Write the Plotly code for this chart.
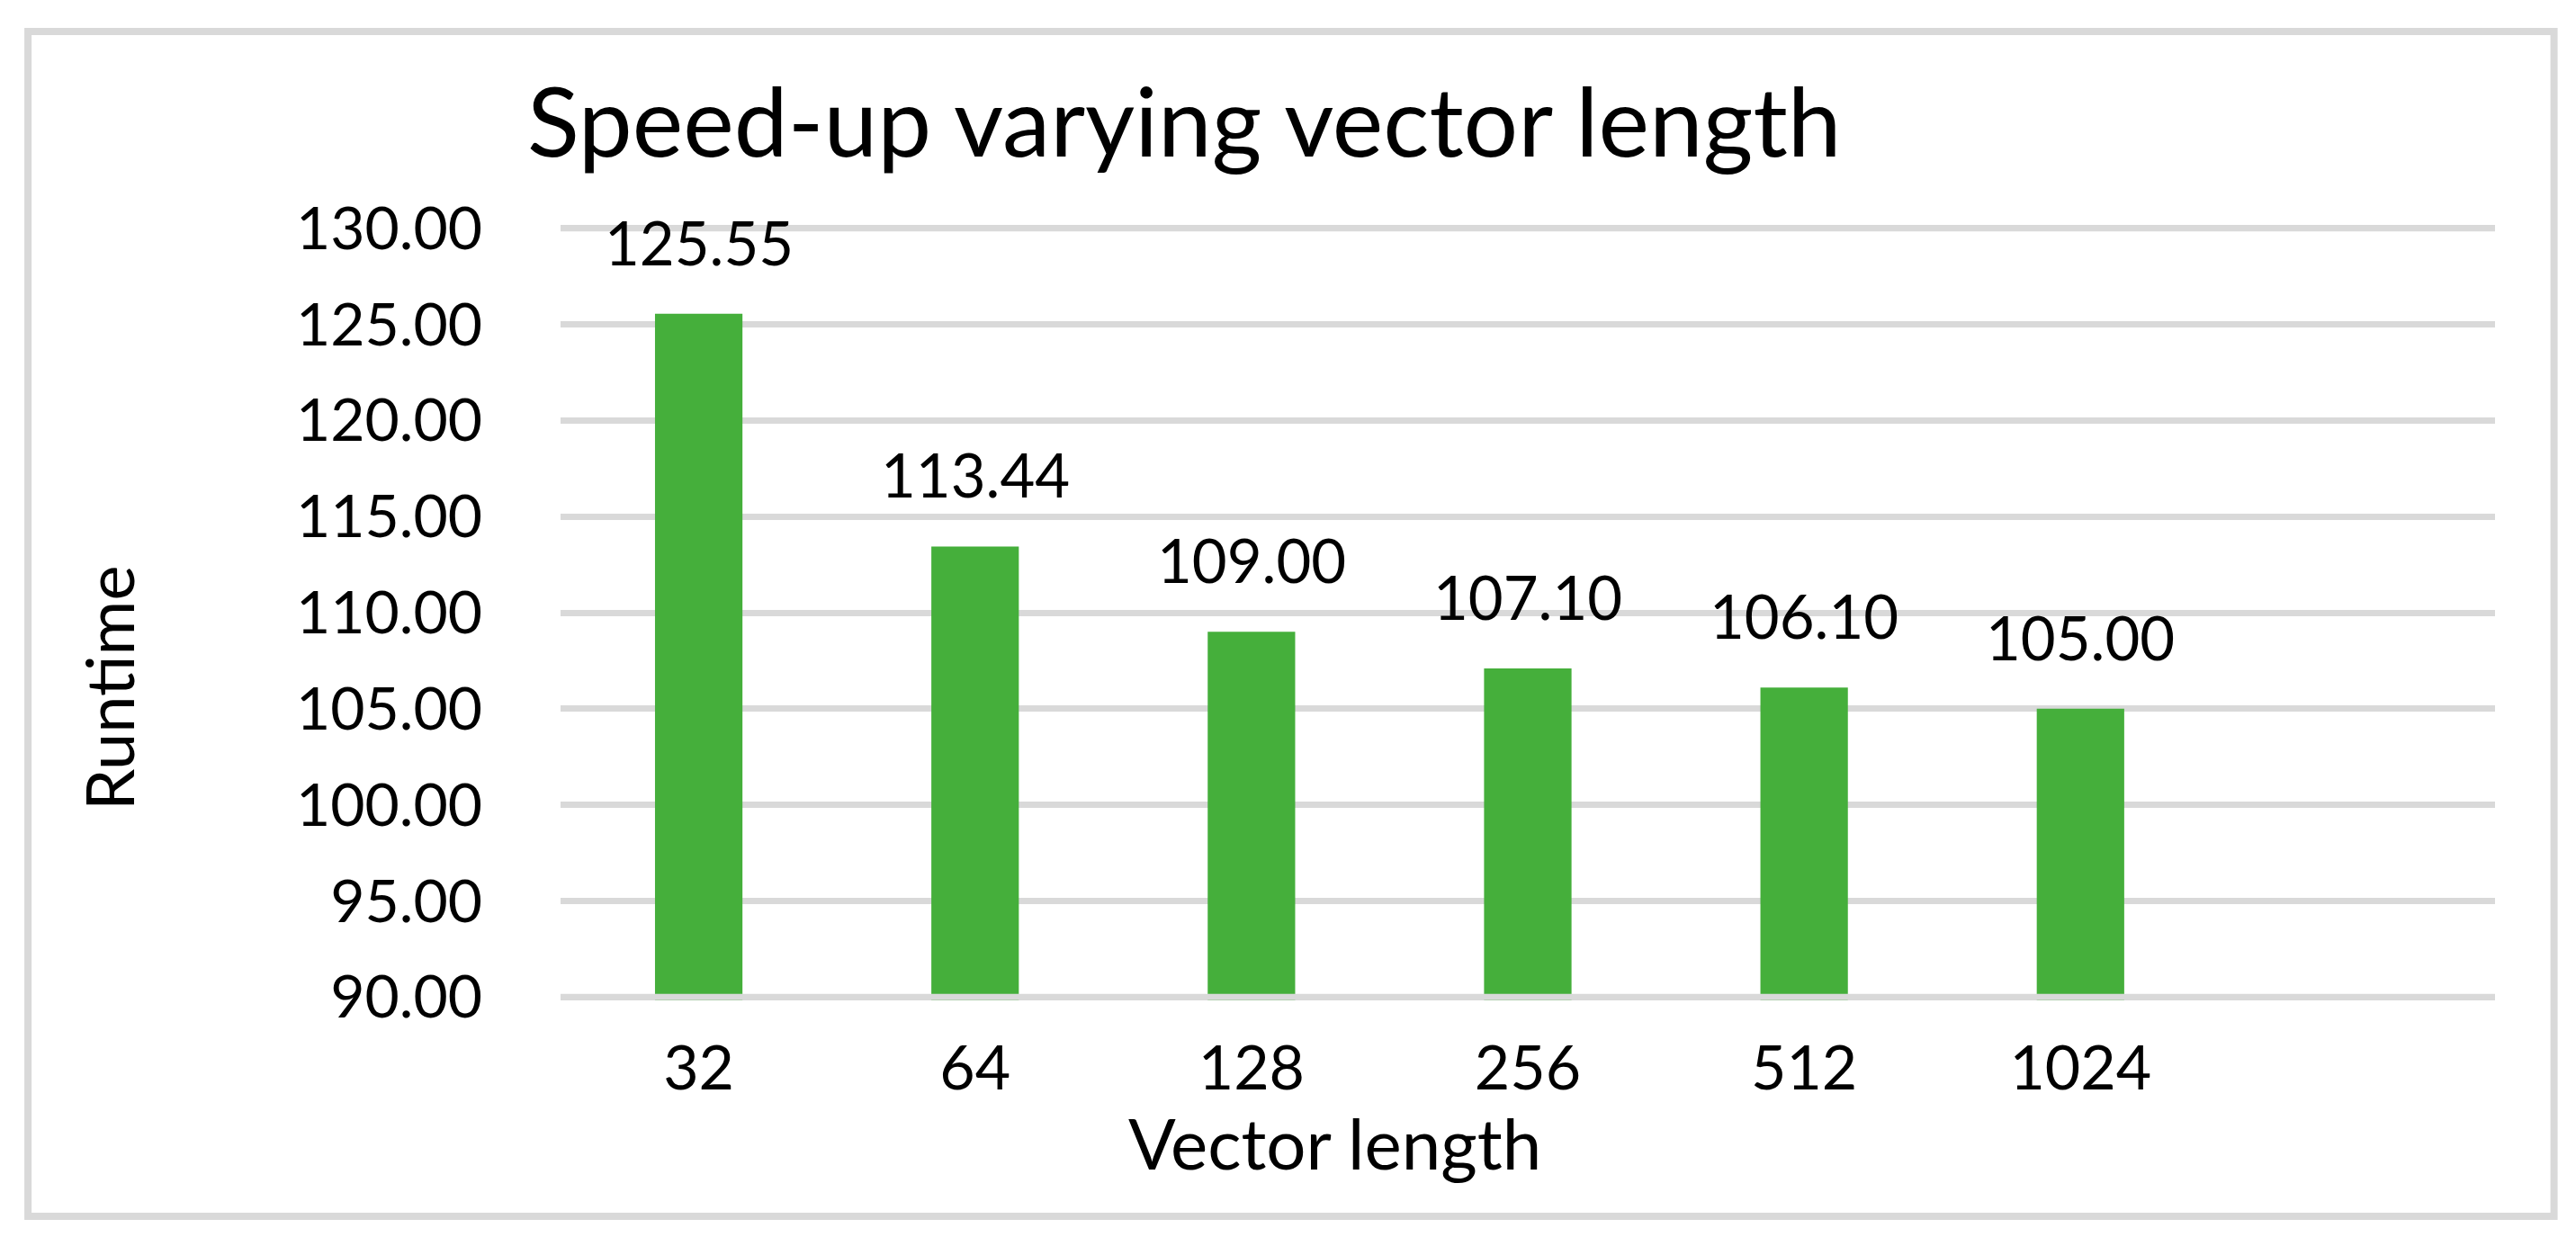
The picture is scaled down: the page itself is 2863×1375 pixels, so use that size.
import plotly.graph_objects as go

# data
vector_lengths = ["32", "64", "128", "256", "512", "1024"]
runtimes = [125.55, 113.44, 109.00, 107.10, 106.10, 105.00]
y_ticks = [90, 95, 100, 105, 110, 115, 120, 125, 130]

FONT = "Lato"
GREEN = "#45AF3B"
GRID = "#D9D9D9"

fig = go.Figure()
fig.add_trace(go.Bar(
    x=vector_lengths, y=runtimes,
    marker=dict(color=GREEN, line=dict(width=0)),
    hoverinfo="x+y",
))

# value labels above bars (category axis -> use the category index)
for i, val in enumerate(runtimes):
    fig.add_annotation(
        x=i, y=val, text=f"{val:.2f}",
        xref="x", yref="y", yanchor="bottom", yshift=38,
        showarrow=False, font=dict(family=FONT, size=67, color="black"),
    )

# axis titles
fig.add_annotation(
    x=-0.2335, y=0.4026, xref="paper", yref="paper",
    text="Runtime", textangle=-90, showarrow=False,
    xanchor="center", yanchor="middle",
    font=dict(family=FONT, size=74, color="black"),
)
fig.add_annotation(
    x=0.40, y=-0.183, xref="paper", yref="paper",
    text="Vector length", showarrow=False,
    xanchor="center", yanchor="middle",
    font=dict(family=FONT, size=78, color="black"),
)

# end gridlines (the bottom one sits over the bar feet like Excel's axis line)
fig.add_shape(type="line", xref="paper", yref="y", x0=0, x1=1,
              y0=y_ticks[-1], y1=y_ticks[-1],
              line=dict(color=GRID, width=7), layer="below")
fig.add_shape(type="line", xref="paper", yref="y", x0=0, x1=1,
              y0=y_ticks[0], y1=y_ticks[0],
              line=dict(color=GRID, width=7), layer="above")

# chart border
fig.add_shape(
    type="rect", xref="paper", yref="paper",
    x0=-0.2753, x1=1.0305, y0=-0.2784, y1=1.2494,
    line=dict(color=GRID, width=8), fillcolor="rgba(0,0,0,0)", layer="below",
)

fig.update_layout(
    width=2863, height=1375,
    margin=dict(l=615, r=98, t=242, b=271, autoexpand=False),
    paper_bgcolor="white", plot_bgcolor="white",
    bargap=0.6835,
    showlegend=False,
    title=dict(
        text="Speed-up varying vector length",
        x=578 / 2863, xanchor="left", xref="container",
        y=0.9062, yanchor="middle", yref="container",
        font=dict(family=FONT, size=107, color="black"),
    ),
    xaxis=dict(
        type="category", range=[-0.5, 6.5],
        showgrid=False, zeroline=False, showline=False,
        automargin=False,
        ticks="", ticklabelstandoff=30,
        tickfont=dict(family=FONT, size=68, color="black"),
    ),
    yaxis=dict(
        # small padding so the end gridlines are not cut by the plot edge
        range=[89.83, 130.17], tickvals=y_ticks,
        ticktext=[f"{v:.2f}" for v in y_ticks],
        showgrid=True, gridcolor=GRID, gridwidth=7,
        zeroline=False, showline=False, automargin=False,
        ticks="", ticklabelstandoff=86,
        tickfont=dict(family=FONT, size=66, color="black"),
    ),
)

fig.write_html("out.html")
